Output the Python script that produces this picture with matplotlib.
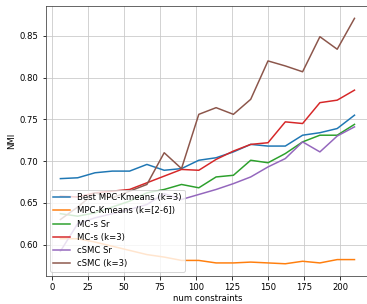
import matplotlib
matplotlib.use("Agg")
import matplotlib.pyplot as plt

numConstraints = [6, 18, 30, 42, 54, 66, 78, 90, 102, 114, 126, 138, 150, 162, 174, 186, 198, 210]

bestMpcKmeans = [0.679, 0.680, 0.686, 0.688, 0.688, 0.696, 0.689, 0.691, 0.701, 0.704,
                 0.711, 0.720, 0.718, 0.718, 0.731, 0.734, 0.739, 0.755]
mpcKmeans = [0.607, 0.607, 0.603, 0.598, 0.593, 0.588, 0.585, 0.581, 0.581, 0.578,
             0.578, 0.579, 0.578, 0.577, 0.580, 0.578, 0.582, 0.582]
mcsSr = [0.637, 0.634, 0.638, 0.645, 0.652, 0.662, 0.666, 0.672, 0.668, 0.681,
         0.683, 0.701, 0.698, 0.709, 0.723, 0.731, 0.731, 0.744]
mcsK3 = [0.658, 0.657, 0.662, 0.664, 0.666, 0.674, 0.682, 0.690, 0.689, 0.702,
         0.712, 0.720, 0.722, 0.747, 0.745, 0.770, 0.773, 0.785]
csmcSr = [0.592, 0.625, 0.632, 0.637, 0.642, 0.648, 0.661, 0.654, 0.660, 0.666,
          0.673, 0.681, 0.693, 0.703, 0.723, 0.711, 0.730, 0.741]
csmcK3 = [0.630, 0.645, 0.662, 0.656, 0.664, 0.672, 0.710, 0.691, 0.756, 0.764,
          0.756, 0.774, 0.820, 0.814, 0.807, 0.849, 0.834, 0.871]

seriesNames = ["Best MPC-Kmeans (k=3)", "MPC-Kmeans (k=[2-6])", "MC-s Sr",
               "MC-s (k=3)", "cSMC Sr", "cSMC (k=3)"]
seriesValues = [bestMpcKmeans, mpcKmeans, mcsSr, mcsK3, csmcSr, csmcK3]

plt.rcParams["font.size"] = 8.5

fig = plt.figure(figsize=(367 / 72, 304 / 72), dpi=72)
ax = fig.add_axes([0.1245, 0.092, 0.8815, 0.888])

for name, values in zip(seriesNames, seriesValues):
    ax.plot(numConstraints, values, label=name)

ax.grid(True, color="#c8c8c8")
for side in ["left", "bottom", "top", "right"]:
    ax.spines[side].set_color("#444444")
ax.set_xlabel("num constraints", labelpad=2)
ax.set_ylabel("NMI")
ax.set_xticks([0, 25, 50, 75, 100, 125, 150, 175, 200])
ax.legend(loc="lower left")

fig.savefig("out.png", dpi=72)
